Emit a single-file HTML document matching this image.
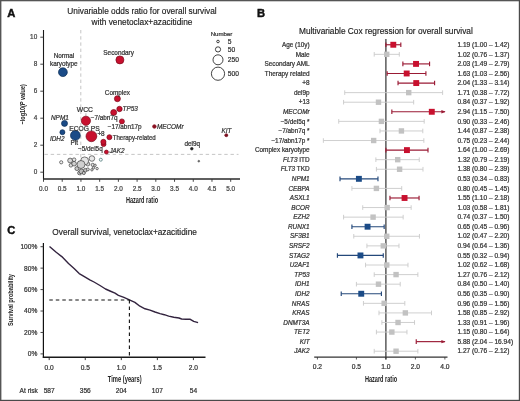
<!DOCTYPE html>
<html><head><meta charset="utf-8"><style>
html,body{margin:0;padding:0;background:#fff;width:520px;height:401px;overflow:hidden}
svg text{font-family:"Liberation Sans", sans-serif}
</style></head><body>
<div style="will-change:transform;width:520px;height:401px">
<svg width="520" height="401" viewBox="0 0 520 401" style="display:block">
<rect x="0" y="0" width="520" height="401" fill="#fff"/>
<text x="7.30" y="16.80" font-size="11.2" text-anchor="start" font-style="normal" font-weight="bold" fill="#111" stroke="#111" stroke-width="0.45" >A</text>
<text x="142.00" y="14.40" font-size="8.3" text-anchor="middle" font-style="normal" font-weight="normal" fill="#222" stroke="#222" stroke-width="0.16" >Univariable odds ratio for overall survival</text>
<text x="142.00" y="25.20" font-size="8.3" text-anchor="middle" font-style="normal" font-weight="normal" fill="#222" stroke="#222" stroke-width="0.16" >with venetoclax+azacitidine</text>
<line x1="80.8" y1="30" x2="80.8" y2="178" stroke="#c0c0c0" stroke-width="0.9" stroke-dasharray="3.4,2.8"/>
<line x1="44.5" y1="154.4" x2="238.5" y2="154.4" stroke="#c0c0c0" stroke-width="0.9" stroke-dasharray="3.4,2.8"/>
<line x1="43.5" y1="30" x2="43.5" y2="179.5" stroke="#1a1a1a" stroke-width="1.1"/>
<line x1="43" y1="179" x2="240" y2="179" stroke="#2a2a2a" stroke-width="1.5"/>
<line x1="40.3" y1="172.20" x2="43.5" y2="172.20" stroke="#333" stroke-width="0.9"/>
<text x="37.20" y="173.90" font-size="6.4" text-anchor="end" font-style="normal" font-weight="normal" fill="#444" stroke="#444" stroke-width="0.22" >0</text>
<line x1="40.3" y1="145.20" x2="43.5" y2="145.20" stroke="#333" stroke-width="0.9"/>
<text x="37.20" y="146.90" font-size="6.4" text-anchor="end" font-style="normal" font-weight="normal" fill="#444" stroke="#444" stroke-width="0.22" >2</text>
<line x1="40.3" y1="118.20" x2="43.5" y2="118.20" stroke="#333" stroke-width="0.9"/>
<text x="37.20" y="119.90" font-size="6.4" text-anchor="end" font-style="normal" font-weight="normal" fill="#444" stroke="#444" stroke-width="0.22" >4</text>
<line x1="40.3" y1="91.20" x2="43.5" y2="91.20" stroke="#333" stroke-width="0.9"/>
<text x="37.20" y="92.90" font-size="6.4" text-anchor="end" font-style="normal" font-weight="normal" fill="#444" stroke="#444" stroke-width="0.22" >6</text>
<line x1="40.3" y1="64.20" x2="43.5" y2="64.20" stroke="#333" stroke-width="0.9"/>
<text x="37.20" y="65.90" font-size="6.4" text-anchor="end" font-style="normal" font-weight="normal" fill="#444" stroke="#444" stroke-width="0.22" >8</text>
<line x1="40.3" y1="37.20" x2="43.5" y2="37.20" stroke="#333" stroke-width="0.9"/>
<text x="37.20" y="38.90" font-size="6.4" text-anchor="end" font-style="normal" font-weight="normal" fill="#444" stroke="#444" stroke-width="0.22" >10</text>
<line x1="43.50" y1="179" x2="43.50" y2="181.8" stroke="#333" stroke-width="0.9"/>
<text x="43.50" y="190.80" font-size="6.4" text-anchor="middle" font-style="normal" font-weight="normal" fill="#444" stroke="#444" stroke-width="0.22" >0.0</text>
<line x1="62.22" y1="179" x2="62.22" y2="181.8" stroke="#333" stroke-width="0.9"/>
<text x="62.22" y="190.80" font-size="6.4" text-anchor="middle" font-style="normal" font-weight="normal" fill="#444" stroke="#444" stroke-width="0.22" >0.5</text>
<line x1="80.94" y1="179" x2="80.94" y2="181.8" stroke="#333" stroke-width="0.9"/>
<text x="80.94" y="190.80" font-size="6.4" text-anchor="middle" font-style="normal" font-weight="normal" fill="#444" stroke="#444" stroke-width="0.22" >1.0</text>
<line x1="99.66" y1="179" x2="99.66" y2="181.8" stroke="#333" stroke-width="0.9"/>
<text x="99.66" y="190.80" font-size="6.4" text-anchor="middle" font-style="normal" font-weight="normal" fill="#444" stroke="#444" stroke-width="0.22" >1.5</text>
<line x1="118.38" y1="179" x2="118.38" y2="181.8" stroke="#333" stroke-width="0.9"/>
<text x="118.38" y="190.80" font-size="6.4" text-anchor="middle" font-style="normal" font-weight="normal" fill="#444" stroke="#444" stroke-width="0.22" >2.0</text>
<line x1="137.10" y1="179" x2="137.10" y2="181.8" stroke="#333" stroke-width="0.9"/>
<text x="137.10" y="190.80" font-size="6.4" text-anchor="middle" font-style="normal" font-weight="normal" fill="#444" stroke="#444" stroke-width="0.22" >2.5</text>
<line x1="155.82" y1="179" x2="155.82" y2="181.8" stroke="#333" stroke-width="0.9"/>
<text x="155.82" y="190.80" font-size="6.4" text-anchor="middle" font-style="normal" font-weight="normal" fill="#444" stroke="#444" stroke-width="0.22" >3.0</text>
<line x1="174.54" y1="179" x2="174.54" y2="181.8" stroke="#333" stroke-width="0.9"/>
<text x="174.54" y="190.80" font-size="6.4" text-anchor="middle" font-style="normal" font-weight="normal" fill="#444" stroke="#444" stroke-width="0.22" >3.5</text>
<line x1="193.26" y1="179" x2="193.26" y2="181.8" stroke="#333" stroke-width="0.9"/>
<text x="193.26" y="190.80" font-size="6.4" text-anchor="middle" font-style="normal" font-weight="normal" fill="#444" stroke="#444" stroke-width="0.22" >4.0</text>
<line x1="211.98" y1="179" x2="211.98" y2="181.8" stroke="#333" stroke-width="0.9"/>
<text x="211.98" y="190.80" font-size="6.4" text-anchor="middle" font-style="normal" font-weight="normal" fill="#444" stroke="#444" stroke-width="0.22" >4.5</text>
<line x1="230.70" y1="179" x2="230.70" y2="181.8" stroke="#333" stroke-width="0.9"/>
<text x="230.70" y="190.80" font-size="6.4" text-anchor="middle" font-style="normal" font-weight="normal" fill="#444" stroke="#444" stroke-width="0.22" >5.0</text>
<text transform="translate(142,203.1) scale(0.68,1)" font-size="8.2" font-weight="bold" text-anchor="middle" fill="#222">Hazard ratio</text>
<text transform="translate(24.6,104.3) rotate(-90) scale(0.72,1)" font-size="7.6" font-weight="bold" text-anchor="middle" fill="#222">−log10(<tspan font-style="italic">P</tspan> value)</text>
<text x="210.70" y="36.20" font-size="6.1" text-anchor="start" font-style="normal" font-weight="normal" fill="#333" stroke="#333" stroke-width="0.22" >Number</text>
<circle cx="218" cy="41.5" r="1.3" fill="none" stroke="#222" stroke-width="0.85"/>
<text x="227.80" y="43.90" font-size="6.7" text-anchor="start" font-style="normal" font-weight="normal" fill="#333" stroke="#333" stroke-width="0.22" >5</text>
<circle cx="218" cy="49.4" r="2.6" fill="none" stroke="#222" stroke-width="0.85"/>
<text x="227.80" y="51.80" font-size="6.7" text-anchor="start" font-style="normal" font-weight="normal" fill="#333" stroke="#333" stroke-width="0.22" >50</text>
<circle cx="218" cy="59.8" r="5.0" fill="none" stroke="#222" stroke-width="0.85"/>
<text x="227.80" y="62.20" font-size="6.7" text-anchor="start" font-style="normal" font-weight="normal" fill="#333" stroke="#333" stroke-width="0.22" >250</text>
<circle cx="218" cy="73.7" r="6.6" fill="none" stroke="#222" stroke-width="0.85"/>
<text x="227.80" y="76.10" font-size="6.7" text-anchor="start" font-style="normal" font-weight="normal" fill="#333" stroke="#333" stroke-width="0.22" >500</text>
<circle cx="61.2" cy="162.3" r="1.6" fill="#f0f0f0" stroke="#333" stroke-width="0.65"/>
<circle cx="70.1" cy="160.5" r="2.4" fill="#d8d8d8" stroke="#333" stroke-width="0.65"/>
<circle cx="74.1" cy="159.7" r="1.8" fill="#e8e8e8" stroke="#333" stroke-width="0.65"/>
<circle cx="70.9" cy="165.3" r="1.8" fill="#e0e0e0" stroke="#333" stroke-width="0.65"/>
<circle cx="74.1" cy="163.7" r="2.3" fill="#d0d0d0" stroke="#333" stroke-width="0.65"/>
<circle cx="76.9" cy="168.6" r="2.0" fill="#c8c8c8" stroke="#333" stroke-width="0.65"/>
<circle cx="79.4" cy="173.0" r="1.8" fill="#c8c8c8" stroke="#333" stroke-width="0.65"/>
<circle cx="81.4" cy="171.4" r="2.4" fill="#bdbdbd" stroke="#333" stroke-width="0.65"/>
<circle cx="83.8" cy="173.0" r="1.6" fill="#c8c8c8" stroke="#333" stroke-width="0.65"/>
<circle cx="85.4" cy="170.2" r="1.8" fill="#c8c8c8" stroke="#333" stroke-width="0.65"/>
<circle cx="87.8" cy="169.4" r="1.5" fill="#d0d0d0" stroke="#333" stroke-width="0.65"/>
<circle cx="87.8" cy="164.0" r="2.0" fill="#d8d8d8" stroke="#333" stroke-width="0.65"/>
<circle cx="84.6" cy="160.9" r="4.0" fill="#e4e4e4" stroke="#333" stroke-width="0.65"/>
<circle cx="81.0" cy="164.5" r="4.0" fill="#cfcfcf" stroke="#333" stroke-width="0.65"/>
<circle cx="91.9" cy="158.5" r="2.8" fill="#e8e8e8" stroke="#333" stroke-width="0.65"/>
<circle cx="92.7" cy="164.9" r="1.6" fill="#e0e0e0" stroke="#333" stroke-width="0.65"/>
<circle cx="95.1" cy="165.3" r="1.2" fill="#e0e0e0" stroke="#333" stroke-width="0.65"/>
<circle cx="93.5" cy="167.8" r="1.2" fill="#e0e0e0" stroke="#333" stroke-width="0.65"/>
<circle cx="91.9" cy="169.8" r="1.2" fill="#e0e0e0" stroke="#333" stroke-width="0.65"/>
<circle cx="97.1" cy="168.6" r="1.2" fill="#e8e8e8" stroke="#333" stroke-width="0.65"/>
<circle cx="100.8" cy="159.7" r="1.5" fill="#fff" stroke="#3a6a6a" stroke-width="0.7"/>
<line x1="85.9" y1="113.2" x2="85.9" y2="116.2" stroke="#777" stroke-width="0.5"/>
<line x1="108.2" y1="117.4" x2="111.2" y2="114.6" stroke="#777" stroke-width="0.5"/>
<line x1="96.8" y1="133.4" x2="95.6" y2="134.0" stroke="#777" stroke-width="0.5"/>
<line x1="101.4" y1="148.2" x2="102.6" y2="146.3" stroke="#777" stroke-width="0.5"/>
<line x1="76.2" y1="131.6" x2="76.0" y2="130.8" stroke="#777" stroke-width="0.5"/>
<circle cx="62.9" cy="72.2" r="4.4" fill="#1b4b87" stroke="#0c2c55" stroke-width="0.7"/>
<circle cx="119.9" cy="59.9" r="4.0" fill="#c8102e" stroke="#7a0a1c" stroke-width="0.7"/>
<circle cx="117.4" cy="98.7" r="3.0" fill="#c8102e" stroke="#7a0a1c" stroke-width="0.7"/>
<circle cx="119.5" cy="109.0" r="2.7" fill="#c8102e" stroke="#7a0a1c" stroke-width="0.7"/>
<circle cx="113.7" cy="112.5" r="3.0" fill="#c8102e" stroke="#7a0a1c" stroke-width="0.7"/>
<circle cx="121.9" cy="121.4" r="2.5" fill="#c8102e" stroke="#7a0a1c" stroke-width="0.7"/>
<circle cx="85.9" cy="120.8" r="4.6" fill="#c8102e" stroke="#7a0a1c" stroke-width="0.7"/>
<circle cx="75.4" cy="135.4" r="4.9" fill="#1b4b87" stroke="#0c2c55" stroke-width="0.7"/>
<circle cx="91.4" cy="136.3" r="5.4" fill="#c8102e" stroke="#7a0a1c" stroke-width="0.7"/>
<circle cx="109.4" cy="137.2" r="2.5" fill="#c8102e" stroke="#7a0a1c" stroke-width="0.7"/>
<circle cx="103.6" cy="144.2" r="2.4" fill="#c8102e" stroke="#7a0a1c" stroke-width="0.7"/>
<circle cx="103.4" cy="141.9" r="2.6" fill="#c8102e" stroke="#7a0a1c" stroke-width="0.7"/>
<circle cx="106.4" cy="152.1" r="2.0" fill="#c8102e" stroke="#7a0a1c" stroke-width="0.7"/>
<circle cx="64.5" cy="123.4" r="3.0" fill="#1b4b87" stroke="#0c2c55" stroke-width="0.7"/>
<circle cx="62.4" cy="132.2" r="2.5" fill="#1b4b87" stroke="#0c2c55" stroke-width="0.7"/>
<circle cx="154.4" cy="126.5" r="1.8" fill="#8a1020" stroke="#8a1020" stroke-width="0.7"/>
<circle cx="226.3" cy="135.2" r="1.5" fill="#7a1020" stroke="#7a1020" stroke-width="0.7"/>
<circle cx="191.8" cy="148.7" r="1.3" fill="#222" stroke="#222" stroke-width="0.7"/>
<circle cx="198.8" cy="161.2" r="0.9" fill="#666" stroke="#666" stroke-width="0.7"/>
<text x="64.00" y="58.30" font-size="6.4" text-anchor="middle" font-style="normal" font-weight="normal" fill="#333" stroke="#333" stroke-width="0.22" >Normal</text>
<text x="63.80" y="65.80" font-size="6.4" text-anchor="middle" font-style="normal" font-weight="normal" fill="#333" stroke="#333" stroke-width="0.22" >karyotype</text>
<text x="118.60" y="55.30" font-size="6.4" text-anchor="middle" font-style="normal" font-weight="normal" fill="#333" stroke="#333" stroke-width="0.22" >Secondary</text>
<text x="117.40" y="94.80" font-size="6.4" text-anchor="middle" font-style="normal" font-weight="normal" fill="#333" stroke="#333" stroke-width="0.22" >Complex</text>
<text x="122.60" y="110.50" font-size="6.4" text-anchor="start" font-style="italic" font-weight="normal" fill="#333" stroke="#333" stroke-width="0.22" >TP53</text>
<text x="84.90" y="112.40" font-size="6.8" text-anchor="middle" font-style="normal" font-weight="normal" fill="#333" stroke="#333" stroke-width="0.22" >WCC</text>
<text x="90.70" y="120.20" font-size="6.4" text-anchor="start" font-style="normal" font-weight="normal" fill="#333" stroke="#333" stroke-width="0.22" >−7/abn7q</text>
<text x="107.70" y="129.20" font-size="6.4" text-anchor="start" font-style="normal" font-weight="normal" fill="#333" stroke="#333" stroke-width="0.22" >−17/abn17p</text>
<text x="69.30" y="130.70" font-size="6.7" text-anchor="start" font-style="normal" font-weight="normal" fill="#333" stroke="#333" stroke-width="0.22" >ECOG PS</text>
<text x="97.40" y="135.80" font-size="6.4" text-anchor="start" font-style="normal" font-weight="normal" fill="#333" stroke="#333" stroke-width="0.22" >+8</text>
<text x="112.70" y="139.90" font-size="6.5" text-anchor="start" font-style="normal" font-weight="normal" fill="#333" stroke="#333" stroke-width="0.22" textLength="43" lengthAdjust="spacingAndGlyphs">Therapy-related</text>
<text x="70.50" y="145.20" font-size="6.4" text-anchor="start" font-style="normal" font-weight="normal" fill="#333" stroke="#333" stroke-width="0.22" >Plt</text>
<text x="78.00" y="151.40" font-size="6.4" text-anchor="start" font-style="normal" font-weight="normal" fill="#333" stroke="#333" stroke-width="0.22" >−5/del5q</text>
<text x="109.40" y="152.70" font-size="6.4" text-anchor="start" font-style="italic" font-weight="normal" fill="#333" stroke="#333" stroke-width="0.22" >JAK2</text>
<text x="51.00" y="119.90" font-size="6.4" text-anchor="start" font-style="italic" font-weight="normal" fill="#333" stroke="#333" stroke-width="0.22" >NPM1</text>
<text x="49.90" y="140.70" font-size="6.4" text-anchor="start" font-style="italic" font-weight="normal" fill="#333" stroke="#333" stroke-width="0.22" >IDH2</text>
<text x="156.90" y="128.60" font-size="6.4" text-anchor="start" font-style="italic" font-weight="normal" fill="#333" stroke="#333" stroke-width="0.22" >MECOMr</text>
<text x="221.40" y="132.60" font-size="6.4" text-anchor="start" font-style="italic" font-weight="normal" fill="#333" stroke="#333" stroke-width="0.22" >KIT</text>
<text x="184.40" y="145.50" font-size="6.4" text-anchor="start" font-style="normal" font-weight="normal" fill="#333" stroke="#333" stroke-width="0.22" >del9q</text>
<text x="256.90" y="16.90" font-size="11.2" text-anchor="start" font-style="normal" font-weight="bold" fill="#111" stroke="#111" stroke-width="0.45" >B</text>
<text x="385.90" y="33.70" font-size="8.3" text-anchor="middle" font-style="normal" font-weight="normal" fill="#222" stroke="#222" stroke-width="0.16" >Multivariable Cox regression for overall survival</text>
<line x1="385.90" y1="39" x2="385.90" y2="359.5" stroke="#333" stroke-width="1.2"/>
<text x="309.60" y="46.95" font-size="6.4" text-anchor="end" font-style="normal" font-weight="normal" fill="#333" stroke="#333" stroke-width="0.22" >Age (10y)</text>
<text x="457.40" y="46.95" font-size="6.6" text-anchor="start" font-style="normal" font-weight="normal" fill="#333" stroke="#333" stroke-width="0.22" >1.19 (1.00 – 1.42)</text>
<line x1="385.90" y1="44.75" x2="400.82" y2="44.75" stroke="#9a1a34" stroke-width="1.15"/>
<line x1="385.90" y1="42.45" x2="385.90" y2="47.05" stroke="#9a1a34" stroke-width="1.15"/>
<line x1="400.82" y1="42.45" x2="400.82" y2="47.05" stroke="#9a1a34" stroke-width="1.15"/>
<rect x="390.35" y="41.80" width="5.9" height="5.9" fill="#c8102e"/>
<text x="309.60" y="56.53" font-size="6.4" text-anchor="end" font-style="normal" font-weight="normal" fill="#333" stroke="#333" stroke-width="0.22" >Male</text>
<text x="457.40" y="56.53" font-size="6.6" text-anchor="start" font-style="normal" font-weight="normal" fill="#333" stroke="#333" stroke-width="0.22" >1.02 (0.76 – 1.37)</text>
<line x1="374.22" y1="54.33" x2="399.30" y2="54.33" stroke="#cacaca" stroke-width="0.9"/>
<line x1="374.22" y1="52.03" x2="374.22" y2="56.63" stroke="#cacaca" stroke-width="0.9"/>
<line x1="399.30" y1="52.03" x2="399.30" y2="56.63" stroke="#cacaca" stroke-width="0.9"/>
<rect x="384.04" y="51.63" width="5.4" height="5.4" fill="#c2c2c2"/>
<text x="309.60" y="66.10" font-size="6.4" text-anchor="end" font-style="normal" font-weight="normal" fill="#333" stroke="#333" stroke-width="0.22" >Secondary AML</text>
<text x="457.40" y="66.10" font-size="6.6" text-anchor="start" font-style="normal" font-weight="normal" fill="#333" stroke="#333" stroke-width="0.22" >2.03 (1.49 – 2.79)</text>
<line x1="402.87" y1="63.90" x2="429.56" y2="63.90" stroke="#9a1a34" stroke-width="1.15"/>
<line x1="402.87" y1="61.60" x2="402.87" y2="66.20" stroke="#9a1a34" stroke-width="1.15"/>
<line x1="429.56" y1="61.60" x2="429.56" y2="66.20" stroke="#9a1a34" stroke-width="1.15"/>
<rect x="413.08" y="60.95" width="5.9" height="5.9" fill="#c8102e"/>
<text x="309.60" y="75.68" font-size="6.4" text-anchor="end" font-style="normal" font-weight="normal" fill="#333" stroke="#333" stroke-width="0.22" >Therapy related</text>
<text x="457.40" y="75.68" font-size="6.6" text-anchor="start" font-style="normal" font-weight="normal" fill="#333" stroke="#333" stroke-width="0.22" >1.63 (1.03 – 2.56)</text>
<line x1="387.16" y1="73.48" x2="425.90" y2="73.48" stroke="#9a1a34" stroke-width="1.15"/>
<line x1="387.16" y1="71.18" x2="387.16" y2="75.78" stroke="#9a1a34" stroke-width="1.15"/>
<line x1="425.90" y1="71.18" x2="425.90" y2="75.78" stroke="#9a1a34" stroke-width="1.15"/>
<rect x="403.74" y="70.53" width="5.9" height="5.9" fill="#c8102e"/>
<text x="309.60" y="85.26" font-size="6.4" text-anchor="end" font-style="normal" font-weight="normal" fill="#333" stroke="#333" stroke-width="0.22" >+8</text>
<text x="457.40" y="85.26" font-size="6.6" text-anchor="start" font-style="normal" font-weight="normal" fill="#333" stroke="#333" stroke-width="0.22" >2.04 (1.33 – 3.14)</text>
<line x1="398.03" y1="83.06" x2="434.59" y2="83.06" stroke="#9a1a34" stroke-width="1.15"/>
<line x1="398.03" y1="80.76" x2="398.03" y2="85.36" stroke="#9a1a34" stroke-width="1.15"/>
<line x1="434.59" y1="80.76" x2="434.59" y2="85.36" stroke="#9a1a34" stroke-width="1.15"/>
<rect x="413.29" y="80.11" width="5.9" height="5.9" fill="#c8102e"/>
<text x="309.60" y="94.83" font-size="6.4" text-anchor="end" font-style="normal" font-weight="normal" fill="#333" stroke="#333" stroke-width="0.22" >del9p</text>
<text x="457.40" y="94.83" font-size="6.6" text-anchor="start" font-style="normal" font-weight="normal" fill="#333" stroke="#333" stroke-width="0.22" >1.71 (0.38 – 7.72)</text>
<line x1="344.73" y1="92.63" x2="442.60" y2="92.63" stroke="#cacaca" stroke-width="0.9"/>
<line x1="344.73" y1="90.33" x2="344.73" y2="94.93" stroke="#cacaca" stroke-width="0.9"/>
<line x1="442.60" y1="90.33" x2="442.60" y2="94.93" stroke="#cacaca" stroke-width="0.9"/>
<rect x="406.03" y="89.93" width="5.4" height="5.4" fill="#c2c2c2"/>
<text x="309.60" y="104.41" font-size="6.4" text-anchor="end" font-style="normal" font-weight="normal" fill="#333" stroke="#333" stroke-width="0.22" >+13</text>
<text x="457.40" y="104.41" font-size="6.6" text-anchor="start" font-style="normal" font-weight="normal" fill="#333" stroke="#333" stroke-width="0.22" >0.84 (0.37 – 1.92)</text>
<line x1="343.59" y1="102.21" x2="413.66" y2="102.21" stroke="#cacaca" stroke-width="0.9"/>
<line x1="343.59" y1="99.91" x2="343.59" y2="104.51" stroke="#cacaca" stroke-width="0.9"/>
<line x1="413.66" y1="99.91" x2="413.66" y2="104.51" stroke="#cacaca" stroke-width="0.9"/>
<rect x="375.78" y="99.51" width="5.4" height="5.4" fill="#c2c2c2"/>
<text x="309.60" y="113.99" font-size="6.4" text-anchor="end" font-style="normal" font-weight="normal" fill="#333" stroke="#333" stroke-width="0.22" ><tspan font-style="italic">MECOMr</tspan></text>
<text x="457.40" y="113.99" font-size="6.6" text-anchor="start" font-style="normal" font-weight="normal" fill="#333" stroke="#333" stroke-width="0.22" >2.94 (1.15 – 7.50)</text>
<line x1="391.85" y1="111.79" x2="445.00" y2="111.79" stroke="#9a1a34" stroke-width="1.15"/>
<line x1="391.85" y1="109.49" x2="391.85" y2="114.09" stroke="#9a1a34" stroke-width="1.15"/>
<path d="M441.40,110.09 L445.60,111.79 L441.40,113.49 Z" fill="#9a1a34"/>
<rect x="428.84" y="108.84" width="5.9" height="5.9" fill="#c8102e"/>
<text x="309.60" y="123.57" font-size="6.4" text-anchor="end" font-style="normal" font-weight="normal" fill="#333" stroke="#333" stroke-width="0.22" >−5/del5q *</text>
<text x="457.40" y="123.57" font-size="6.6" text-anchor="start" font-style="normal" font-weight="normal" fill="#333" stroke="#333" stroke-width="0.22" >0.90 (0.33 – 2.46)</text>
<line x1="338.73" y1="121.37" x2="424.20" y2="121.37" stroke="#cacaca" stroke-width="0.9"/>
<line x1="338.73" y1="119.07" x2="338.73" y2="123.67" stroke="#cacaca" stroke-width="0.9"/>
<line x1="424.20" y1="119.07" x2="424.20" y2="123.67" stroke="#cacaca" stroke-width="0.9"/>
<rect x="378.72" y="118.67" width="5.4" height="5.4" fill="#c2c2c2"/>
<text x="309.60" y="133.14" font-size="6.4" text-anchor="end" font-style="normal" font-weight="normal" fill="#333" stroke="#333" stroke-width="0.22" >−7/abn7q *</text>
<text x="457.40" y="133.14" font-size="6.6" text-anchor="start" font-style="normal" font-weight="normal" fill="#333" stroke="#333" stroke-width="0.22" >1.44 (0.87 – 2.38)</text>
<line x1="379.97" y1="130.94" x2="422.80" y2="130.94" stroke="#cacaca" stroke-width="0.9"/>
<line x1="379.97" y1="128.64" x2="379.97" y2="133.24" stroke="#cacaca" stroke-width="0.9"/>
<line x1="422.80" y1="128.64" x2="422.80" y2="133.24" stroke="#cacaca" stroke-width="0.9"/>
<rect x="398.72" y="128.24" width="5.4" height="5.4" fill="#c2c2c2"/>
<text x="309.60" y="142.72" font-size="6.4" text-anchor="end" font-style="normal" font-weight="normal" fill="#333" stroke="#333" stroke-width="0.22" >−17/abn17p *</text>
<text x="457.40" y="142.72" font-size="6.6" text-anchor="start" font-style="normal" font-weight="normal" fill="#333" stroke="#333" stroke-width="0.22" >0.75 (0.23 – 2.44)</text>
<line x1="323.37" y1="140.52" x2="423.85" y2="140.52" stroke="#cacaca" stroke-width="0.9"/>
<line x1="323.37" y1="138.22" x2="323.37" y2="142.82" stroke="#cacaca" stroke-width="0.9"/>
<line x1="423.85" y1="138.22" x2="423.85" y2="142.82" stroke="#cacaca" stroke-width="0.9"/>
<rect x="370.96" y="137.82" width="5.4" height="5.4" fill="#c2c2c2"/>
<text x="309.60" y="152.30" font-size="6.4" text-anchor="end" font-style="normal" font-weight="normal" fill="#333" stroke="#333" stroke-width="0.22" >Complex karyotype</text>
<text x="457.40" y="152.30" font-size="6.6" text-anchor="start" font-style="normal" font-weight="normal" fill="#333" stroke="#333" stroke-width="0.22" >1.64 (1.00 – 2.69)</text>
<line x1="385.90" y1="150.10" x2="428.00" y2="150.10" stroke="#9a1a34" stroke-width="1.15"/>
<line x1="385.90" y1="147.80" x2="385.90" y2="152.40" stroke="#9a1a34" stroke-width="1.15"/>
<line x1="428.00" y1="147.80" x2="428.00" y2="152.40" stroke="#9a1a34" stroke-width="1.15"/>
<rect x="404.00" y="147.15" width="5.9" height="5.9" fill="#c8102e"/>
<text x="309.60" y="161.87" font-size="6.4" text-anchor="end" font-style="normal" font-weight="normal" fill="#333" stroke="#333" stroke-width="0.22" ><tspan font-style="italic">FLT3</tspan> ITD</text>
<text x="457.40" y="161.87" font-size="6.6" text-anchor="start" font-style="normal" font-weight="normal" fill="#333" stroke="#333" stroke-width="0.22" >1.32 (0.79 – 2.19)</text>
<line x1="375.87" y1="159.67" x2="419.26" y2="159.67" stroke="#cacaca" stroke-width="0.9"/>
<line x1="375.87" y1="157.37" x2="375.87" y2="161.97" stroke="#cacaca" stroke-width="0.9"/>
<line x1="419.26" y1="157.37" x2="419.26" y2="161.97" stroke="#cacaca" stroke-width="0.9"/>
<rect x="395.01" y="156.97" width="5.4" height="5.4" fill="#c2c2c2"/>
<text x="309.60" y="171.45" font-size="6.4" text-anchor="end" font-style="normal" font-weight="normal" fill="#333" stroke="#333" stroke-width="0.22" ><tspan font-style="italic">FLT3</tspan> TKD</text>
<text x="457.40" y="171.45" font-size="6.6" text-anchor="start" font-style="normal" font-weight="normal" fill="#333" stroke="#333" stroke-width="0.22" >1.38 (0.80 – 2.39)</text>
<line x1="376.41" y1="169.25" x2="422.97" y2="169.25" stroke="#cacaca" stroke-width="0.9"/>
<line x1="376.41" y1="166.95" x2="376.41" y2="171.55" stroke="#cacaca" stroke-width="0.9"/>
<line x1="422.97" y1="166.95" x2="422.97" y2="171.55" stroke="#cacaca" stroke-width="0.9"/>
<rect x="396.90" y="166.55" width="5.4" height="5.4" fill="#c2c2c2"/>
<text x="309.60" y="181.03" font-size="6.4" text-anchor="end" font-style="normal" font-weight="normal" fill="#333" stroke="#333" stroke-width="0.22" ><tspan font-style="italic">NPM1</tspan></text>
<text x="457.40" y="181.03" font-size="6.6" text-anchor="start" font-style="normal" font-weight="normal" fill="#333" stroke="#333" stroke-width="0.22" >0.53 (0.34 – 0.83)</text>
<line x1="340.00" y1="178.83" x2="377.97" y2="178.83" stroke="#24487a" stroke-width="1.15"/>
<line x1="340.00" y1="176.53" x2="340.00" y2="181.13" stroke="#24487a" stroke-width="1.15"/>
<line x1="377.97" y1="176.53" x2="377.97" y2="181.13" stroke="#24487a" stroke-width="1.15"/>
<rect x="355.94" y="175.88" width="5.9" height="5.9" fill="#1b4b87"/>
<text x="309.60" y="190.60" font-size="6.4" text-anchor="end" font-style="normal" font-weight="normal" fill="#333" stroke="#333" stroke-width="0.22" ><tspan font-style="italic">CEBPA</tspan></text>
<text x="457.40" y="190.60" font-size="6.6" text-anchor="start" font-style="normal" font-weight="normal" fill="#333" stroke="#333" stroke-width="0.22" >0.80 (0.45 – 1.45)</text>
<line x1="351.92" y1="188.41" x2="401.71" y2="188.41" stroke="#cacaca" stroke-width="0.9"/>
<line x1="351.92" y1="186.10" x2="351.92" y2="190.71" stroke="#cacaca" stroke-width="0.9"/>
<line x1="401.71" y1="186.10" x2="401.71" y2="190.71" stroke="#cacaca" stroke-width="0.9"/>
<rect x="373.71" y="185.71" width="5.4" height="5.4" fill="#c2c2c2"/>
<text x="309.60" y="200.18" font-size="6.4" text-anchor="end" font-style="normal" font-weight="normal" fill="#333" stroke="#333" stroke-width="0.22" ><tspan font-style="italic">ASXL1</tspan></text>
<text x="457.40" y="200.18" font-size="6.6" text-anchor="start" font-style="normal" font-weight="normal" fill="#333" stroke="#333" stroke-width="0.22" >1.55 (1.10 – 2.18)</text>
<line x1="389.96" y1="197.98" x2="419.06" y2="197.98" stroke="#9a1a34" stroke-width="1.15"/>
<line x1="389.96" y1="195.68" x2="389.96" y2="200.28" stroke="#9a1a34" stroke-width="1.15"/>
<line x1="419.06" y1="195.68" x2="419.06" y2="200.28" stroke="#9a1a34" stroke-width="1.15"/>
<rect x="401.60" y="195.03" width="5.9" height="5.9" fill="#c8102e"/>
<text x="309.60" y="209.76" font-size="6.4" text-anchor="end" font-style="normal" font-weight="normal" fill="#333" stroke="#333" stroke-width="0.22" ><tspan font-style="italic">BCOR</tspan></text>
<text x="457.40" y="209.76" font-size="6.6" text-anchor="start" font-style="normal" font-weight="normal" fill="#333" stroke="#333" stroke-width="0.22" >1.03 (0.58 – 1.81)</text>
<line x1="362.72" y1="207.56" x2="411.15" y2="207.56" stroke="#cacaca" stroke-width="0.9"/>
<line x1="362.72" y1="205.26" x2="362.72" y2="209.86" stroke="#cacaca" stroke-width="0.9"/>
<line x1="411.15" y1="205.26" x2="411.15" y2="209.86" stroke="#cacaca" stroke-width="0.9"/>
<rect x="384.46" y="204.86" width="5.4" height="5.4" fill="#c2c2c2"/>
<text x="309.60" y="219.34" font-size="6.4" text-anchor="end" font-style="normal" font-weight="normal" fill="#333" stroke="#333" stroke-width="0.22" ><tspan font-style="italic">EZH2</tspan></text>
<text x="457.40" y="219.34" font-size="6.6" text-anchor="start" font-style="normal" font-weight="normal" fill="#333" stroke="#333" stroke-width="0.22" >0.74 (0.37 – 1.50)</text>
<line x1="343.59" y1="217.14" x2="403.15" y2="217.14" stroke="#cacaca" stroke-width="0.9"/>
<line x1="343.59" y1="214.84" x2="343.59" y2="219.44" stroke="#cacaca" stroke-width="0.9"/>
<line x1="403.15" y1="214.84" x2="403.15" y2="219.44" stroke="#cacaca" stroke-width="0.9"/>
<rect x="370.39" y="214.44" width="5.4" height="5.4" fill="#c2c2c2"/>
<text x="309.60" y="228.91" font-size="6.4" text-anchor="end" font-style="normal" font-weight="normal" fill="#333" stroke="#333" stroke-width="0.22" ><tspan font-style="italic">RUNX1</tspan></text>
<text x="457.40" y="228.91" font-size="6.6" text-anchor="start" font-style="normal" font-weight="normal" fill="#333" stroke="#333" stroke-width="0.22" >0.65 (0.45 – 0.96)</text>
<line x1="351.92" y1="226.71" x2="384.16" y2="226.71" stroke="#24487a" stroke-width="1.15"/>
<line x1="351.92" y1="224.41" x2="351.92" y2="229.01" stroke="#24487a" stroke-width="1.15"/>
<line x1="384.16" y1="224.41" x2="384.16" y2="229.01" stroke="#24487a" stroke-width="1.15"/>
<rect x="364.62" y="223.76" width="5.9" height="5.9" fill="#1b4b87"/>
<text x="309.60" y="238.49" font-size="6.4" text-anchor="end" font-style="normal" font-weight="normal" fill="#333" stroke="#333" stroke-width="0.22" ><tspan font-style="italic">SF3B1</tspan></text>
<text x="457.40" y="238.49" font-size="6.6" text-anchor="start" font-style="normal" font-weight="normal" fill="#333" stroke="#333" stroke-width="0.22" >1.02 (0.47 – 2.20)</text>
<line x1="353.77" y1="236.29" x2="419.45" y2="236.29" stroke="#cacaca" stroke-width="0.9"/>
<line x1="353.77" y1="233.99" x2="353.77" y2="238.59" stroke="#cacaca" stroke-width="0.9"/>
<line x1="419.45" y1="233.99" x2="419.45" y2="238.59" stroke="#cacaca" stroke-width="0.9"/>
<rect x="384.04" y="233.59" width="5.4" height="5.4" fill="#c2c2c2"/>
<text x="309.60" y="248.07" font-size="6.4" text-anchor="end" font-style="normal" font-weight="normal" fill="#333" stroke="#333" stroke-width="0.22" ><tspan font-style="italic">SRSF2</tspan></text>
<text x="457.40" y="248.07" font-size="6.6" text-anchor="start" font-style="normal" font-weight="normal" fill="#333" stroke="#333" stroke-width="0.22" >0.94 (0.64 – 1.36)</text>
<line x1="366.91" y1="245.87" x2="398.98" y2="245.87" stroke="#cacaca" stroke-width="0.9"/>
<line x1="366.91" y1="243.57" x2="366.91" y2="248.17" stroke="#cacaca" stroke-width="0.9"/>
<line x1="398.98" y1="243.57" x2="398.98" y2="248.17" stroke="#cacaca" stroke-width="0.9"/>
<rect x="380.57" y="243.17" width="5.4" height="5.4" fill="#c2c2c2"/>
<text x="309.60" y="257.64" font-size="6.4" text-anchor="end" font-style="normal" font-weight="normal" fill="#333" stroke="#333" stroke-width="0.22" ><tspan font-style="italic">STAG2</tspan></text>
<text x="457.40" y="257.64" font-size="6.6" text-anchor="start" font-style="normal" font-weight="normal" fill="#333" stroke="#333" stroke-width="0.22" >0.55 (0.32 – 0.94)</text>
<line x1="337.42" y1="255.44" x2="383.27" y2="255.44" stroke="#24487a" stroke-width="1.15"/>
<line x1="337.42" y1="253.14" x2="337.42" y2="257.74" stroke="#24487a" stroke-width="1.15"/>
<line x1="383.27" y1="253.14" x2="383.27" y2="257.74" stroke="#24487a" stroke-width="1.15"/>
<rect x="357.51" y="252.49" width="5.9" height="5.9" fill="#1b4b87"/>
<text x="309.60" y="267.22" font-size="6.4" text-anchor="end" font-style="normal" font-weight="normal" fill="#333" stroke="#333" stroke-width="0.22" ><tspan font-style="italic">U2AF1</tspan></text>
<text x="457.40" y="267.22" font-size="6.6" text-anchor="start" font-style="normal" font-weight="normal" fill="#333" stroke="#333" stroke-width="0.22" >1.02 (0.62 – 1.68)</text>
<line x1="365.56" y1="265.02" x2="407.97" y2="265.02" stroke="#cacaca" stroke-width="0.9"/>
<line x1="365.56" y1="262.72" x2="365.56" y2="267.32" stroke="#cacaca" stroke-width="0.9"/>
<line x1="407.97" y1="262.72" x2="407.97" y2="267.32" stroke="#cacaca" stroke-width="0.9"/>
<rect x="384.04" y="262.32" width="5.4" height="5.4" fill="#c2c2c2"/>
<text x="309.60" y="276.80" font-size="6.4" text-anchor="end" font-style="normal" font-weight="normal" fill="#333" stroke="#333" stroke-width="0.22" ><tspan font-style="italic">TP53</tspan></text>
<text x="457.40" y="276.80" font-size="6.6" text-anchor="start" font-style="normal" font-weight="normal" fill="#333" stroke="#333" stroke-width="0.22" >1.27 (0.76 – 2.12)</text>
<line x1="374.22" y1="274.60" x2="417.87" y2="274.60" stroke="#cacaca" stroke-width="0.9"/>
<line x1="374.22" y1="272.30" x2="374.22" y2="276.90" stroke="#cacaca" stroke-width="0.9"/>
<line x1="417.87" y1="272.30" x2="417.87" y2="276.90" stroke="#cacaca" stroke-width="0.9"/>
<rect x="393.37" y="271.90" width="5.4" height="5.4" fill="#c2c2c2"/>
<text x="309.60" y="286.38" font-size="6.4" text-anchor="end" font-style="normal" font-weight="normal" fill="#333" stroke="#333" stroke-width="0.22" ><tspan font-style="italic">IDH1</tspan></text>
<text x="457.40" y="286.38" font-size="6.6" text-anchor="start" font-style="normal" font-weight="normal" fill="#333" stroke="#333" stroke-width="0.22" >0.84 (0.50 – 1.40)</text>
<line x1="356.41" y1="284.18" x2="400.22" y2="284.18" stroke="#cacaca" stroke-width="0.9"/>
<line x1="356.41" y1="281.88" x2="356.41" y2="286.48" stroke="#cacaca" stroke-width="0.9"/>
<line x1="400.22" y1="281.88" x2="400.22" y2="286.48" stroke="#cacaca" stroke-width="0.9"/>
<rect x="375.78" y="281.48" width="5.4" height="5.4" fill="#c2c2c2"/>
<text x="309.60" y="295.95" font-size="6.4" text-anchor="end" font-style="normal" font-weight="normal" fill="#333" stroke="#333" stroke-width="0.22" ><tspan font-style="italic">IDH2</tspan></text>
<text x="457.40" y="295.95" font-size="6.6" text-anchor="start" font-style="normal" font-weight="normal" fill="#333" stroke="#333" stroke-width="0.22" >0.56 (0.35 – 0.90)</text>
<line x1="341.23" y1="293.75" x2="381.42" y2="293.75" stroke="#24487a" stroke-width="1.15"/>
<line x1="341.23" y1="291.45" x2="341.23" y2="296.05" stroke="#24487a" stroke-width="1.15"/>
<line x1="381.42" y1="291.45" x2="381.42" y2="296.05" stroke="#24487a" stroke-width="1.15"/>
<rect x="358.28" y="290.80" width="5.9" height="5.9" fill="#1b4b87"/>
<text x="309.60" y="305.53" font-size="6.4" text-anchor="end" font-style="normal" font-weight="normal" fill="#333" stroke="#333" stroke-width="0.22" ><tspan font-style="italic">NRAS</tspan></text>
<text x="457.40" y="305.53" font-size="6.6" text-anchor="start" font-style="normal" font-weight="normal" fill="#333" stroke="#333" stroke-width="0.22" >0.96 (0.59 – 1.56)</text>
<line x1="363.45" y1="303.33" x2="404.82" y2="303.33" stroke="#cacaca" stroke-width="0.9"/>
<line x1="363.45" y1="301.03" x2="363.45" y2="305.63" stroke="#cacaca" stroke-width="0.9"/>
<line x1="404.82" y1="301.03" x2="404.82" y2="305.63" stroke="#cacaca" stroke-width="0.9"/>
<rect x="381.46" y="300.63" width="5.4" height="5.4" fill="#c2c2c2"/>
<text x="309.60" y="315.11" font-size="6.4" text-anchor="end" font-style="normal" font-weight="normal" fill="#333" stroke="#333" stroke-width="0.22" ><tspan font-style="italic">KRAS</tspan></text>
<text x="457.40" y="315.11" font-size="6.6" text-anchor="start" font-style="normal" font-weight="normal" fill="#333" stroke="#333" stroke-width="0.22" >1.58 (0.85 – 2.92)</text>
<line x1="378.98" y1="312.91" x2="431.50" y2="312.91" stroke="#cacaca" stroke-width="0.9"/>
<line x1="378.98" y1="310.61" x2="378.98" y2="315.21" stroke="#cacaca" stroke-width="0.9"/>
<line x1="431.50" y1="310.61" x2="431.50" y2="315.21" stroke="#cacaca" stroke-width="0.9"/>
<rect x="402.66" y="310.21" width="5.4" height="5.4" fill="#c2c2c2"/>
<text x="309.60" y="324.68" font-size="6.4" text-anchor="end" font-style="normal" font-weight="normal" fill="#333" stroke="#333" stroke-width="0.22" ><tspan font-style="italic">DNMT3A</tspan></text>
<text x="457.40" y="324.68" font-size="6.6" text-anchor="start" font-style="normal" font-weight="normal" fill="#333" stroke="#333" stroke-width="0.22" >1.33 (0.91 – 1.96)</text>
<line x1="381.89" y1="322.48" x2="414.53" y2="322.48" stroke="#cacaca" stroke-width="0.9"/>
<line x1="381.89" y1="320.18" x2="381.89" y2="324.78" stroke="#cacaca" stroke-width="0.9"/>
<line x1="414.53" y1="320.18" x2="414.53" y2="324.78" stroke="#cacaca" stroke-width="0.9"/>
<rect x="395.33" y="319.78" width="5.4" height="5.4" fill="#c2c2c2"/>
<text x="309.60" y="334.26" font-size="6.4" text-anchor="end" font-style="normal" font-weight="normal" fill="#333" stroke="#333" stroke-width="0.22" ><tspan font-style="italic">TET2</tspan></text>
<text x="457.40" y="334.26" font-size="6.6" text-anchor="start" font-style="normal" font-weight="normal" fill="#333" stroke="#333" stroke-width="0.22" >1.15 (0.80 – 1.64)</text>
<line x1="376.41" y1="332.06" x2="406.95" y2="332.06" stroke="#cacaca" stroke-width="0.9"/>
<line x1="376.41" y1="329.76" x2="376.41" y2="334.36" stroke="#cacaca" stroke-width="0.9"/>
<line x1="406.95" y1="329.76" x2="406.95" y2="334.36" stroke="#cacaca" stroke-width="0.9"/>
<rect x="389.15" y="329.36" width="5.4" height="5.4" fill="#c2c2c2"/>
<text x="309.60" y="343.84" font-size="6.4" text-anchor="end" font-style="normal" font-weight="normal" fill="#333" stroke="#333" stroke-width="0.22" ><tspan font-style="italic">KIT</tspan></text>
<text x="457.40" y="343.84" font-size="6.6" text-anchor="start" font-style="normal" font-weight="normal" fill="#333" stroke="#333" stroke-width="0.22" >5.88 (2.04 – 16.94)</text>
<line x1="416.24" y1="341.64" x2="445.00" y2="341.64" stroke="#9a1a34" stroke-width="1.15"/>
<line x1="416.24" y1="339.34" x2="416.24" y2="343.94" stroke="#9a1a34" stroke-width="1.15"/>
<path d="M441.40,339.94 L445.60,341.64 L441.40,343.34 Z" fill="#9a1a34"/>
<text x="309.60" y="353.41" font-size="6.4" text-anchor="end" font-style="normal" font-weight="normal" fill="#333" stroke="#333" stroke-width="0.22" ><tspan font-style="italic">JAK2</tspan></text>
<text x="457.40" y="353.41" font-size="6.6" text-anchor="start" font-style="normal" font-weight="normal" fill="#333" stroke="#333" stroke-width="0.22" >1.27 (0.76 – 2.12)</text>
<line x1="374.22" y1="351.21" x2="417.87" y2="351.21" stroke="#cacaca" stroke-width="0.9"/>
<line x1="374.22" y1="348.91" x2="374.22" y2="353.51" stroke="#cacaca" stroke-width="0.9"/>
<line x1="417.87" y1="348.91" x2="417.87" y2="353.51" stroke="#cacaca" stroke-width="0.9"/>
<rect x="393.37" y="348.51" width="5.4" height="5.4" fill="#c2c2c2"/>
<line x1="314.2" y1="357.1" x2="447.5" y2="357.1" stroke="#333" stroke-width="1.2"/>
<line x1="317.42" y1="357.1" x2="317.42" y2="359.5" stroke="#333" stroke-width="0.8"/>
<text x="317.42" y="369.40" font-size="6.7" text-anchor="middle" font-style="normal" font-weight="normal" fill="#333" stroke="#333" stroke-width="0.22" >0.2</text>
<line x1="356.41" y1="357.1" x2="356.41" y2="359.5" stroke="#333" stroke-width="0.8"/>
<text x="356.41" y="369.40" font-size="6.7" text-anchor="middle" font-style="normal" font-weight="normal" fill="#333" stroke="#333" stroke-width="0.22" >0.5</text>
<line x1="385.90" y1="357.1" x2="385.90" y2="359.5" stroke="#333" stroke-width="0.8"/>
<text x="385.90" y="369.40" font-size="6.7" text-anchor="middle" font-style="normal" font-weight="normal" fill="#333" stroke="#333" stroke-width="0.22" >1.0</text>
<line x1="415.39" y1="357.1" x2="415.39" y2="359.5" stroke="#333" stroke-width="0.8"/>
<text x="415.39" y="369.40" font-size="6.7" text-anchor="middle" font-style="normal" font-weight="normal" fill="#333" stroke="#333" stroke-width="0.22" >2.0</text>
<line x1="444.89" y1="357.1" x2="444.89" y2="359.5" stroke="#333" stroke-width="0.8"/>
<text x="444.89" y="369.40" font-size="6.7" text-anchor="middle" font-style="normal" font-weight="normal" fill="#333" stroke="#333" stroke-width="0.22" >4.0</text>
<text transform="translate(381,381.7) scale(0.68,1)" font-size="8.2" font-weight="bold" text-anchor="middle" fill="#222">Hazard ratio</text>
<text x="7.30" y="234.20" font-size="11.2" text-anchor="start" font-style="normal" font-weight="bold" fill="#111" stroke="#111" stroke-width="0.45" >C</text>
<text x="124.60" y="234.70" font-size="8.27" text-anchor="middle" font-style="normal" font-weight="normal" fill="#222" stroke="#222" stroke-width="0.16" >Overall survival, venetoclax+azacitidine</text>
<line x1="43.4" y1="243" x2="43.4" y2="357.9" stroke="#111" stroke-width="1.2"/>
<line x1="42.8" y1="357.3" x2="205.5" y2="357.3" stroke="#1a1a1a" stroke-width="1.4"/>
<line x1="40.5" y1="353.90" x2="43.4" y2="353.90" stroke="#333" stroke-width="0.9"/>
<text x="37.30" y="356.30" font-size="6.6" text-anchor="end" font-style="normal" font-weight="normal" fill="#333" stroke="#333" stroke-width="0.22" >0%</text>
<line x1="40.5" y1="332.46" x2="43.4" y2="332.46" stroke="#333" stroke-width="0.9"/>
<text x="37.30" y="334.86" font-size="6.6" text-anchor="end" font-style="normal" font-weight="normal" fill="#333" stroke="#333" stroke-width="0.22" >20%</text>
<line x1="40.5" y1="311.02" x2="43.4" y2="311.02" stroke="#333" stroke-width="0.9"/>
<text x="37.30" y="313.42" font-size="6.6" text-anchor="end" font-style="normal" font-weight="normal" fill="#333" stroke="#333" stroke-width="0.22" >40%</text>
<line x1="40.5" y1="289.58" x2="43.4" y2="289.58" stroke="#333" stroke-width="0.9"/>
<text x="37.30" y="291.98" font-size="6.6" text-anchor="end" font-style="normal" font-weight="normal" fill="#333" stroke="#333" stroke-width="0.22" >60%</text>
<line x1="40.5" y1="268.14" x2="43.4" y2="268.14" stroke="#333" stroke-width="0.9"/>
<text x="37.30" y="270.54" font-size="6.6" text-anchor="end" font-style="normal" font-weight="normal" fill="#333" stroke="#333" stroke-width="0.22" >80%</text>
<line x1="40.5" y1="246.70" x2="43.4" y2="246.70" stroke="#333" stroke-width="0.9"/>
<text x="37.30" y="249.10" font-size="6.6" text-anchor="end" font-style="normal" font-weight="normal" fill="#333" stroke="#333" stroke-width="0.22" >100%</text>
<line x1="49.20" y1="357.3" x2="49.20" y2="360.1" stroke="#222" stroke-width="0.9"/>
<text x="49.20" y="369.60" font-size="6.6" text-anchor="middle" font-style="normal" font-weight="normal" fill="#333" stroke="#333" stroke-width="0.22" >0.0</text>
<line x1="85.25" y1="357.3" x2="85.25" y2="360.1" stroke="#222" stroke-width="0.9"/>
<text x="85.25" y="369.60" font-size="6.6" text-anchor="middle" font-style="normal" font-weight="normal" fill="#333" stroke="#333" stroke-width="0.22" >0.5</text>
<line x1="121.30" y1="357.3" x2="121.30" y2="360.1" stroke="#222" stroke-width="0.9"/>
<text x="121.30" y="369.60" font-size="6.6" text-anchor="middle" font-style="normal" font-weight="normal" fill="#333" stroke="#333" stroke-width="0.22" >1.0</text>
<line x1="157.35" y1="357.3" x2="157.35" y2="360.1" stroke="#222" stroke-width="0.9"/>
<text x="157.35" y="369.60" font-size="6.6" text-anchor="middle" font-style="normal" font-weight="normal" fill="#333" stroke="#333" stroke-width="0.22" >1.5</text>
<line x1="193.40" y1="357.3" x2="193.40" y2="360.1" stroke="#222" stroke-width="0.9"/>
<text x="193.40" y="369.60" font-size="6.6" text-anchor="middle" font-style="normal" font-weight="normal" fill="#333" stroke="#333" stroke-width="0.22" >2.0</text>
<text transform="translate(124.75,381.9) scale(0.705,1)" font-size="8.2" font-weight="bold" text-anchor="middle" fill="#222">Time (years)</text>
<text transform="translate(13.4,300) rotate(-90) scale(0.70,1)" font-size="8" font-weight="bold" text-anchor="middle" fill="#222">Survival probability</text>
<text x="19.60" y="393.00" font-size="6.6" text-anchor="start" font-style="normal" font-weight="normal" fill="#333" stroke="#333" stroke-width="0.22" >At risk</text>
<text x="49.20" y="393.00" font-size="6.6" text-anchor="middle" font-style="normal" font-weight="normal" fill="#333" stroke="#333" stroke-width="0.22" >587</text>
<text x="85.25" y="393.00" font-size="6.6" text-anchor="middle" font-style="normal" font-weight="normal" fill="#333" stroke="#333" stroke-width="0.22" >356</text>
<text x="121.30" y="393.00" font-size="6.6" text-anchor="middle" font-style="normal" font-weight="normal" fill="#333" stroke="#333" stroke-width="0.22" >204</text>
<text x="157.35" y="393.00" font-size="6.6" text-anchor="middle" font-style="normal" font-weight="normal" fill="#333" stroke="#333" stroke-width="0.22" >107</text>
<text x="193.40" y="393.00" font-size="6.6" text-anchor="middle" font-style="normal" font-weight="normal" fill="#333" stroke="#333" stroke-width="0.22" >54</text>
<path d="M49.5,246.5 L56.2,252.3 L61.8,256.6 L68.5,263.5 L74.1,268.6 L79.2,273.6 L83.1,275.9 L89.8,279.8 L94,282 L100,285.5 L105.5,289 L110,291 L115,293.2 L118.4,295.4 L123.9,297.4 L129.4,299.9 L134.9,302.4 L139.9,306.2 L145,308.8 L150,310.1 L155,312 L160,313.65 L164.3,314.7 L168.7,316.1 L173.8,317.3 L179,318 L181.6,319 L186,319.3 L190.3,319.3 L193.7,321.3 L198.1,322.7" fill="none" stroke="#33243f" stroke-width="1.4" stroke-linejoin="round"/>
<line x1="49.3" y1="300.0" x2="129.4" y2="300.0" stroke="#111" stroke-width="1.1" stroke-dasharray="3.5,3.0"/>
<line x1="129.4" y1="300.0" x2="129.4" y2="356.8" stroke="#111" stroke-width="1.1" stroke-dasharray="3.5,3.0"/>
<rect x="0" y="0" width="520" height="1" fill="#555"/>
<rect x="0" y="1" width="520" height="0.3" fill="#555"/>
<rect x="0" y="0" width="1.4" height="401" fill="#555"/>
<rect x="518.8" y="0" width="1.2" height="401" fill="#4a4a4a"/>
<rect x="0" y="399.8" width="520" height="1.2" fill="#4a4a4a"/>
</svg>
</div>
</body></html>
